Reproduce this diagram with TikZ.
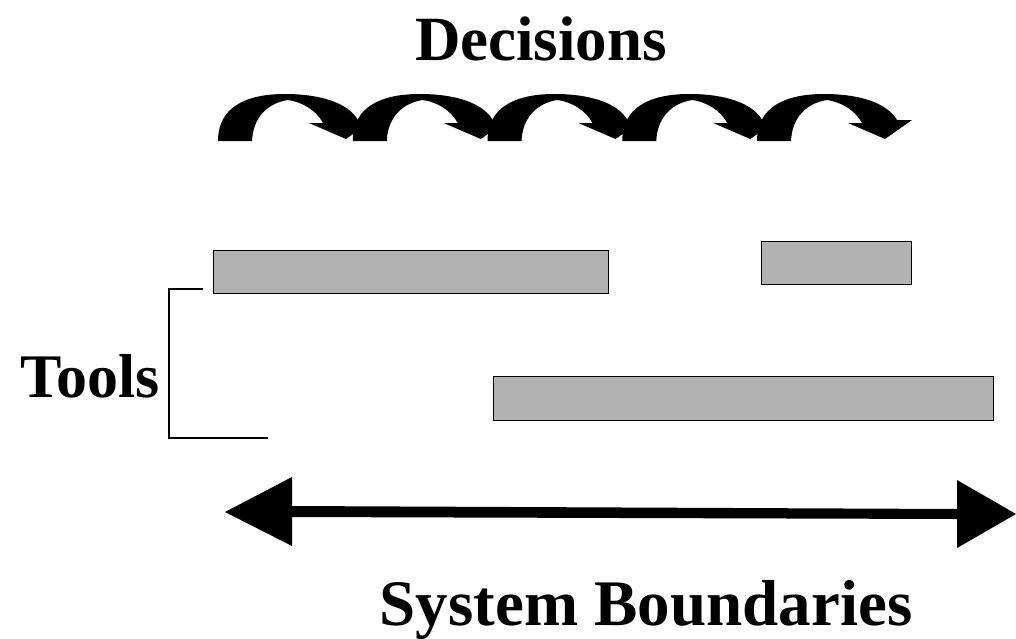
\documentclass[tikz,border=0pt]{standalone}
\usepackage{fontspec}
\setmainfont{Liberation Serif}
\begin{document}
\begin{tikzpicture}[x=1pt,y=-1pt,
  bar/.style={draw=black,line width=1.2pt,fill=black!30,inner sep=0pt,minimum width=0pt},
  title/.style={font=\bfseries\fontsize{63}{70}\selectfont,anchor=base,inner sep=0pt},
  bracket/.style={draw=black,line width=1.3pt}]
\useasboundingbox (0,0) rectangle (1016,638);
% titles
\node[title] (dec) at (541,60) {Decisions};
\node[title,font=\bfseries\fontsize{62}{70}\selectfont] (tools) at (90,397) {Tools};
\node[title,font=\bfseries\fontsize{65}{72}\selectfont] (sys) at (646,625) {System Boundaries};
% curved arrows
\foreach \i in {0,...,4}{
  \begin{scope}[shift={({218+134.75*\i},141)},yscale=-1]
    \fill[black] (0,0) .. controls (0,34) and (28,47) .. (67,47)
      .. controls (103,47) and (130,38) .. (140,21)
      -- (155,21) -- (128,2) -- (91,18) -- (105,18)
      .. controls (98,31) and (84,39) .. (70,41)
      .. controls (50,38) and (35,24) .. (34,0) -- cycle;
  \end{scope}
}
% bars
\node[bar,minimum width=395pt,minimum height=43pt,anchor=north west] (b1) at (213,250) {};
\node[bar,minimum width=150pt,minimum height=43pt,anchor=north west] (b2) at (761,241) {};
\node[bar,minimum width=500pt,minimum height=44pt,anchor=north west] (b3) at (493,376) {};
% bracket
\coordinate (bt) at (203,289);
\coordinate (bb) at (268,438);
\draw[bracket] (bt) -- (169,289) -- (169,438) -- (bb);
% double arrow
\coordinate (la) at (225,512);
\coordinate (ra) at (1016,514);
\fill[black] (la) -- (292,477) -- (292,506) -- (957,509) -- (957,480) -- (ra)
  -- (957,548) -- (957,519) -- (292,517) -- (292,546) -- cycle;
\end{tikzpicture}
\end{document}
